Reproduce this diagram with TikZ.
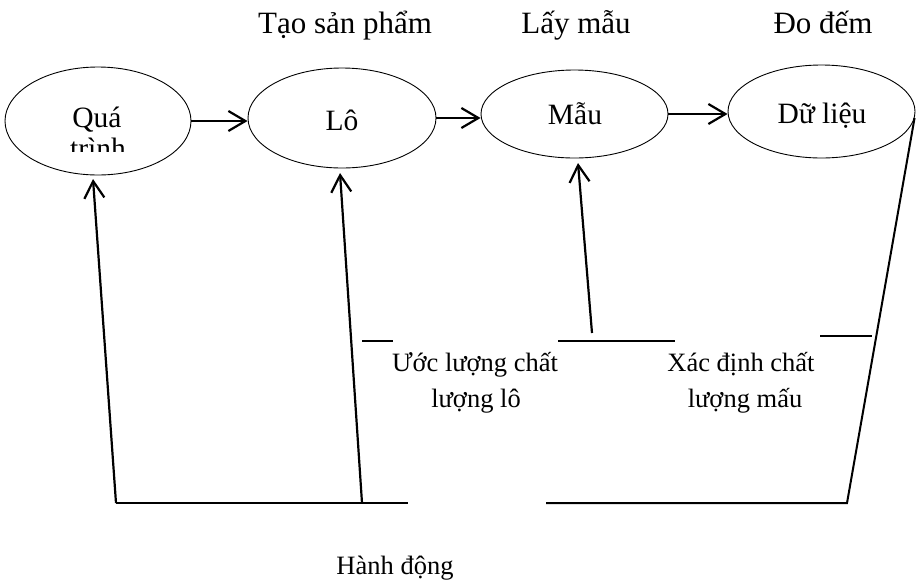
\documentclass[tikz,border=0pt]{standalone}
\usepackage{fontspec}
\setmainfont{Liberation Serif}
\usetikzlibrary{shapes.geometric,arrows.meta}
\begin{document}
\begin{tikzpicture}[x=1pt,y=-1pt,
  stage/.style={ellipse,draw,line width=0.9pt,inner sep=0pt},
  txt/.style={anchor=base,inner sep=0pt},
  headfont/.style={txt,font=\fontsize{31}{36}\selectfont},
  stagefont/.style={txt,font=\fontsize{29.5}{34}\selectfont},
  notefont/.style={txt,font=\fontsize{26.5}{32}\selectfont},
  flow/.style={line width=2.2pt,-{Straight Barb[length=17pt,width=20pt]}},
  link/.style={line width=2pt}
]
\useasboundingbox (0,0) rectangle (917,584);

% stage headings
\node[headfont] (h1) at (345,33) {Tạo sản phẩm};
\node[headfont] (h2) at (576,33) {Lấy mẫu};
\node[headfont] (h3) at (823,33) {Đo đếm};

% stages
\node[stage,minimum width=186pt,minimum height=108pt] (q)   at (98,121) {};
\node[stage,minimum width=188pt,minimum height=100pt] (lo)  at (342,118) {};
\node[stage,minimum width=187pt,minimum height=88pt]  (mau) at (574.5,114) {};
\node[stage,minimum width=187pt,minimum height=93pt]  (dl)  at (821.5,111.5) {};

\node[stagefont] (tq1) at (97,127) {Quá};
\begin{scope}
  \clip (50,130) rectangle (150,151);
  \node[stagefont] (tq2) at (98,158) {trình};
\end{scope}
\node[stagefont] (tlo)  at (342,130) {Lô};
\node[stagefont] (tmau) at (575,124) {Mẫu};
\node[stagefont] (tdl)  at (822,123) {Dữ liệu};

% forward flow
\draw[flow] (q.east)  -- (q.east -| lo.west);
\draw[flow] (lo.east) -- (lo.east -| mau.west);
\draw[flow] (mau.east) -- (mau.east -| dl.west);

% feedback frame
\coordinate (bl) at (116,503);
\coordinate (bm) at (408,503);
\coordinate (br0) at (546,503);
\coordinate (br) at (847,503);
\coordinate (lofoot) at (362,503);
\coordinate (qtip) at (93,179);
\coordinate (lotip) at (340,173);
\coordinate (mautip) at (578,163);
\coordinate (maufoot) at (592,333);

\draw[flow] (bl) -- (qtip);
\draw[link] (bl) -- (bm);
\draw[flow] (lofoot) -- (lotip);
\draw[flow] (maufoot) -- (mautip);
\draw[link] (dl.-4) -- (br) -- (br0);

% short ticks
\coordinate (t1a) at (362,341); \coordinate (t1b) at (393,341);
\coordinate (t2a) at (558,341); \coordinate (t2b) at (675,341);
\coordinate (t3a) at (820,336); \coordinate (t3b) at (872,336);
\draw[link] (t1a) -- (t1b);
\draw[link] (t2a) -- (t2b);
\draw[link] (t3a) -- (t3b);

% notes
\node[notefont] (n1a) at (475,371) {Ước lượng chất};
\node[notefont] (n1b) at (476,407) {lượng lô};
\node[notefont] (n2a) at (741,371) {Xác định chất};
\node[notefont] (n2b) at (745,407) {lượng mấu};
\node[notefont] (act) at (395,574) {Hành động};
\end{tikzpicture}
\end{document}
